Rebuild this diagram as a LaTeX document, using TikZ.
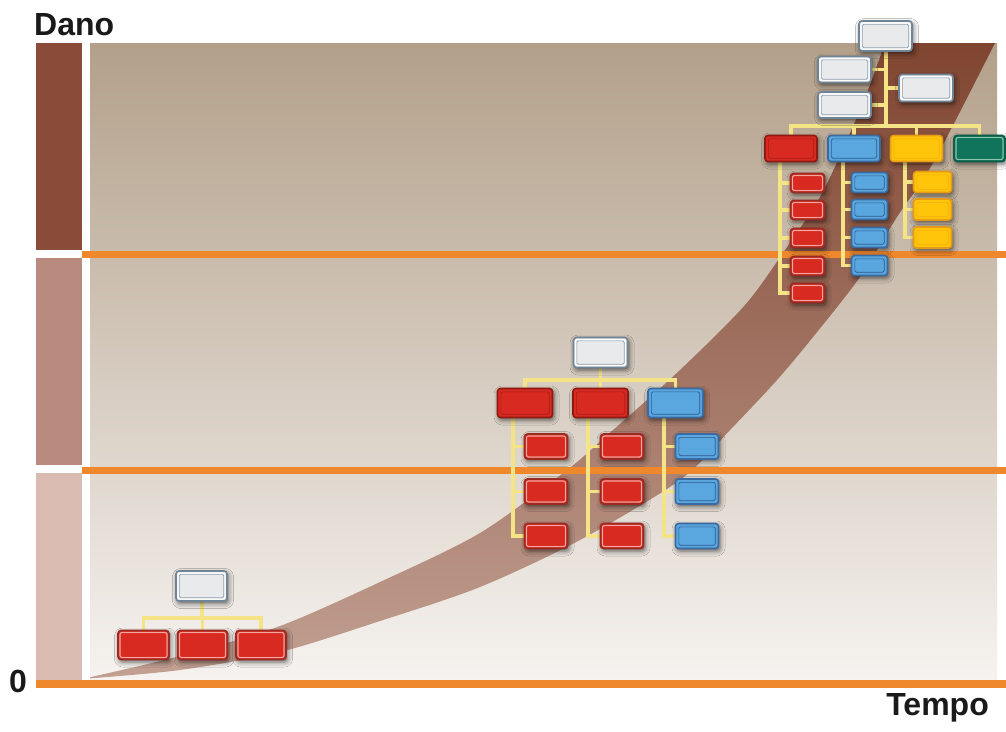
\documentclass[tikz,border=0pt]{standalone}
\usepackage{fontspec}
\setmainfont{Liberation Sans}
\usetikzlibrary{shadows.blur}
\definecolor{paneltop}{HTML}{B3A08A}
\definecolor{panelbot}{HTML}{F6F3F0}
\definecolor{bandtop}{HTML}{7B3F2A}
\definecolor{bandbot}{HTML}{C2A092}
\definecolor{bardark}{HTML}{8B4B39}
\definecolor{barmid}{HTML}{B98B7F}
\definecolor{barlight}{HTML}{D9BBB2}
\definecolor{orng}{HTML}{EF872C}
\definecolor{connc}{HTML}{F4E486}
\definecolor{wfill}{HTML}{E9EAEC}
\definecolor{wout}{HTML}{6F8597}
\definecolor{winl}{HTML}{8FA0AE}
\definecolor{redf}{HTML}{D92A21}
\definecolor{redo}{HTML}{8E1A12}
\definecolor{redi}{HTML}{A21E16}
\definecolor{redso}{HTML}{9B2A22}
\definecolor{redring}{HTML}{F4A79E}
\definecolor{bluf}{HTML}{5AA6DE}
\definecolor{bluo}{HTML}{3A6AA0}
\definecolor{blui}{HTML}{2E5B90}
\definecolor{yelf}{HTML}{FEC50A}
\definecolor{yelo}{HTML}{E59A18}
\definecolor{yeli}{HTML}{F2AE10}
\definecolor{grnf}{HTML}{0F7459}
\definecolor{grno}{HTML}{0D5E48}
\definecolor{grnring}{HTML}{8CC5AE}
\definecolor{txt}{HTML}{1A1A1A}
\tikzset{
  bx/.style n args={4}{rounded corners=3pt, fill=#1, draw=#2, line width=1.6pt, inner sep=0pt,
    blur shadow={shadow xshift=1.5pt, shadow yshift=-2.5pt, shadow blur radius=5pt, shadow opacity=60},
    path picture={
      \draw[#3, line width=1.1pt, rounded corners=2pt]
        ([shift={(2pt,2pt)}]path picture bounding box.south west) rectangle
        ([shift={(-2pt,-2pt)}]path picture bounding box.north east);
      \draw[#4, line width=0.6pt, rounded corners=1.5pt]
        ([shift={(3.3pt,3.3pt)}]path picture bounding box.south west) rectangle
        ([shift={(-3.3pt,-3.3pt)}]path picture bounding box.north east);}},
  whitebox/.style={bx={wfill}{wout}{white}{winl}},
  redbig/.style={bx={redf}{redo}{redf}{redi}},
  redsm/.style={bx={redf}{redso}{redring}{redf}},
  blubox/.style={bx={bluf}{bluo}{bluf}{blui}},
  yelbox/.style={bx={yelf}{yelo}{yelf}{yeli}},
  grnbox/.style={bx={grnf}{grno}{grnring}{grnf}},
  conn/.style={draw=connc, line width=3.2pt},
  lbl/.style={font=\bfseries\fontsize{32}{32}\selectfont, text=txt, inner sep=0pt}
}
\begin{document}
\begin{tikzpicture}[x=1pt,y=-1pt]
\useasboundingbox (0,0) rectangle (1006,731);
\fill[white] (0,0) rectangle (1006,731);
% panel
\shade[top color=paneltop, bottom color=panelbot] (90,43) rectangle (997,681);
% band
\begin{scope}
\clip (90,43) rectangle (997,681);
\shade[top color=bandtop, bottom color=bandbot]
  plot[smooth] coordinates {(82,679) (180,656) (280,626) (380,582) (480,533) (567,470) (613,430) (680,370) (745,305) (785,250) (820,197) (847,140) (868,90) (885,43) (900,0)}
  -- plot[smooth] coordinates {(1016,0) (995,43) (933,163) (897,217) (860,277) (813,337) (777,380) (730,430) (680,480) (580,540) (480,587) (380,621) (280,652) (180,670) (82,679)}
  -- cycle;
\end{scope}
% bars
\fill[bardark] (36,43) rectangle (82,250);
\fill[barmid] (36,258) rectangle (82,465);
\fill[barlight] (36,473) rectangle (82,681);
% orange lines
\fill[orng] (82,250.5) rectangle (1006,257.5);
\fill[orng] (82,466.5) rectangle (1006,473.5);
\fill[orng] (36,680) rectangle (1006,688);
% labels
\node[lbl, anchor=base west] (dano) at (34,35) {Dano};
\node[lbl, anchor=base east] (tempo) at (989,715) {Tempo};
\node[lbl, anchor=base west] (zero) at (9,692) {0};

% ---------- bottom chart ----------
\coordinate (abar) at (202,618);
\draw[conn] (202,586) -- (abar);
\draw[conn] (143.5,645) |- (abar) -| (261,645);
\draw[conn] (202.5,645) -- (202.5,618);
\node[whitebox, minimum width=51, minimum height=30] (a0) at (201.5,586) {};
\node[redsm, minimum width=51, minimum height=29] (a1) at (143.5,645) {};
\node[redsm, minimum width=50, minimum height=29] (a2) at (202.5,645) {};
\node[redsm, minimum width=50, minimum height=29] (a3) at (261,645) {};

% ---------- middle chart ----------
\coordinate (bbar) at (600.5,380);
\coordinate (br1) at (513,418);
\coordinate (br2) at (588,418);
\coordinate (br3) at (664,418);
\draw[conn] (bbar) -- (600.5,352);
\draw[conn] (525,403) |- (bbar) -| (675.5,403);
\draw[conn] (600.5,403) -- (bbar);
\foreach \c/\x in {1/546,2/622,3/697}{
  \foreach \r/\y in {1/446.5,2/491.5,3/536}{
    \coordinate (bc\c\r) at (\x,\y);
  }
}
\draw[conn] (br1) |- (bc13);
\draw[conn] (br1 |- bc11) -- (bc11);
\draw[conn] (br1 |- bc12) -- (bc12);
\draw[conn] (br2) |- (bc23);
\draw[conn] (br2 |- bc21) -- (bc21);
\draw[conn] (br2 |- bc22) -- (bc22);
\draw[conn] (br3) |- (bc33);
\draw[conn] (br3 |- bc31) -- (bc31);
\draw[conn] (br3 |- bc32) -- (bc32);
\node[whitebox, minimum width=54, minimum height=30] (b0) at (600.5,352.5) {};
\node[redbig, minimum width=55, minimum height=29] (b1) at (525,403) {};
\node[redbig, minimum width=55, minimum height=29] (b2) at (600.5,403) {};
\node[blubox, minimum width=55, minimum height=29] (b3) at (675.5,403) {};
\foreach \r/\y in {1/446.5,2/491.5,3/536}{
  \node[redsm, minimum width=43, minimum height=25] (b1\r) at (546,\y) {};
  \node[redsm, minimum width=43, minimum height=25] (b2\r) at (622,\y) {};
  \node[blubox, minimum width=43, minimum height=25] (b3\r) at (697,\y) {};
}

% ---------- top chart ----------
\coordinate (tbar) at (886,126);
\coordinate (trr) at (780,162);
\coordinate (trb) at (843,162);
\coordinate (trY) at (905,162);
\draw[conn] (886,36) -- (tbar);
\draw[conn] (844.5,69.5) -- (tbar |- 844.5,69.5);
\draw[conn] (844.5,105) -- (tbar |- 844.5,105);
\draw[conn] (926,88) -- (tbar |- 926,88);
\draw[conn] (791,148.5) |- (tbar) -| (979.5,148.5);
\draw[conn] (854,148.5) -- (854,126);
\draw[conn] (916.5,148.5) -- (916.5,126);
\draw[conn] (trr) |- (807.5,293);
\foreach \y in {183,210,238,266}{\draw[conn] (trr |- 807.5,\y) -- (807.5,\y);}
\draw[conn] (trb) |- (869.5,265.5);
\foreach \y in {182.5,209.5,237.5}{\draw[conn] (trb |- 869.5,\y) -- (869.5,\y);}
\draw[conn] (trY) |- (932.5,237.5);
\foreach \y in {182,209.5}{\draw[conn] (trY |- 932.5,\y) -- (932.5,\y);}
\node[whitebox, minimum width=53, minimum height=30] (t0) at (885.5,36) {};
\node[whitebox, minimum width=53, minimum height=26] (tl1) at (844.5,69.5) {};
\node[whitebox, minimum width=53, minimum height=26] (tl2) at (844.5,105) {};
\node[whitebox, minimum width=54, minimum height=27] (tr) at (926,88) {};
\node[redbig, minimum width=52, minimum height=26] (t1) at (791,148.5) {};
\node[blubox, minimum width=52, minimum height=26] (t2) at (854,148.5) {};
\node[yelbox, minimum width=52, minimum height=26] (t3) at (916.5,148.5) {};
\node[grnbox, minimum width=51, minimum height=26] (t4) at (979.5,148.5) {};
\foreach \i/\y in {1/183,2/210,3/238,4/266,5/293}{
  \node[redsm, minimum width=34, minimum height=19] (tr\i) at (807.5,\y) {};
}
\foreach \i/\y in {1/182.5,2/209.5,3/237.5,4/265.5}{
  \node[blubox, minimum width=36, minimum height=20] (tb\i) at (869.5,\y) {};
}
\foreach \i/\y in {1/182,2/209.5,3/237.5}{
  \node[yelbox, minimum width=38, minimum height=21] (ty\i) at (932.5,\y) {};
}
\end{tikzpicture}
\end{document}
